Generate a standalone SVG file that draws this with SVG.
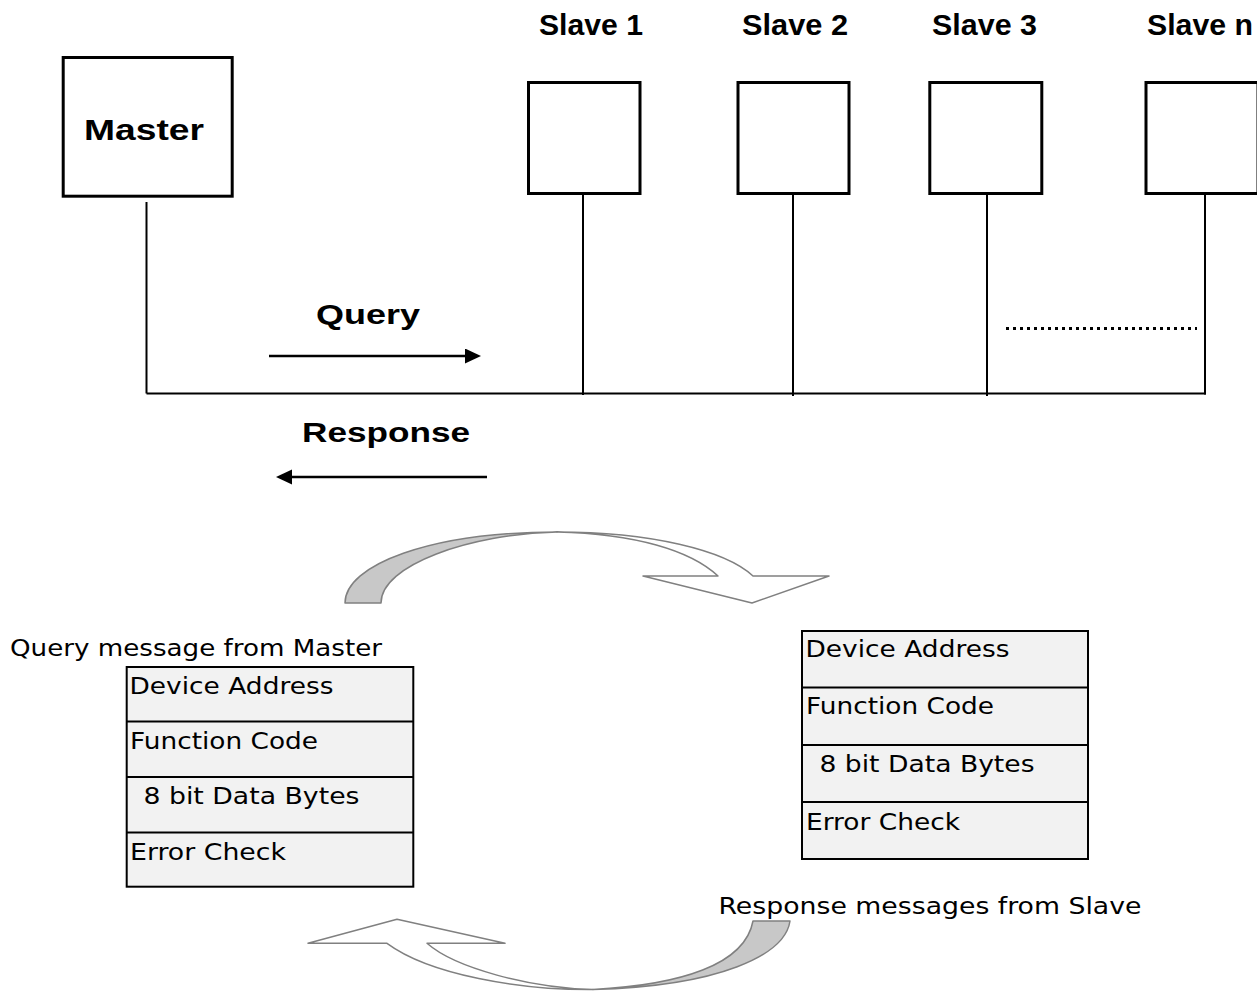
<svg xmlns="http://www.w3.org/2000/svg" width="1257" height="991" viewBox="0 0 1257 991">
<defs>
<style>
.box{fill:#fff;stroke:#000;stroke-width:3}
.wire{stroke:#000;stroke-width:2;fill:none}
.arr{stroke:#000;stroke-width:2.5;fill:none}
.bold{font-family:"Liberation Sans",Arial,sans-serif;font-weight:bold;fill:#000}
.txt{font-family:"DejaVu Sans",Verdana,sans-serif;font-size:22.5px;fill:#000}
.tbl{fill:#f2f2f2;stroke:#000;stroke-width:2}
.div{stroke:#000;stroke-width:2}
.grey{fill:#c8c8c8;stroke:#808080;stroke-width:1.5;stroke-linejoin:round}
.white{fill:#fff;stroke:#808080;stroke-width:1.5;stroke-linejoin:round}
</style>
<marker id="head" markerUnits="userSpaceOnUse" markerWidth="17" markerHeight="16" refX="0" refY="7.5" orient="auto">
<path d="M0,0 L16,7.5 L0,15 Z" fill="#000"/>
</marker>
</defs>
<rect width="1257" height="991" fill="#fff"/>

<g id="master">
<rect class="box" x="63.2" y="57.5" width="169" height="138.7"/>
<text class="bold" x="84" y="140" font-size="29" textLength="120" lengthAdjust="spacingAndGlyphs">Master</text>
</g>

<g id="slave1">
<rect class="box" x="528.5" y="82.5" width="111.5" height="111"/>
<text class="bold" x="539" y="34.5" font-size="29" textLength="104" lengthAdjust="spacingAndGlyphs">Slave 1</text>
</g>
<g id="slave2">
<rect class="box" x="738" y="82.5" width="111" height="111"/>
<text class="bold" x="742" y="34.5" font-size="29" textLength="106" lengthAdjust="spacingAndGlyphs">Slave 2</text>
</g>
<g id="slave3">
<rect class="box" x="929.8" y="82.5" width="112" height="111"/>
<text class="bold" x="932" y="34.5" font-size="29" textLength="105" lengthAdjust="spacingAndGlyphs">Slave 3</text>
</g>
<g id="slaven">
<rect class="box" x="1146" y="82.5" width="112" height="111"/>
<text class="bold" x="1147" y="34.5" font-size="29" textLength="106" lengthAdjust="spacingAndGlyphs">Slave n</text>
</g>

<g id="connectors">
<line class="wire" x1="146.5" y1="202" x2="146.5" y2="393.5"/>
<line class="wire" x1="146.5" y1="393.5" x2="1206" y2="393.5"/>
<line class="wire" x1="583" y1="195" x2="583" y2="395"/>
<line class="wire" x1="793" y1="195" x2="793" y2="396"/>
<line class="wire" x1="987" y1="195" x2="987" y2="396"/>
<line class="wire" x1="1205" y1="195" x2="1205" y2="394.5"/>
<line x1="1006" y1="328.5" x2="1197" y2="328.5" stroke="#000" stroke-width="3" stroke-dasharray="3 4"/>
<line class="arr" x1="269" y1="356" x2="465" y2="356" marker-end="url(#head)"/>
<line class="arr" x1="487" y1="477" x2="292" y2="477" marker-end="url(#head)"/>
</g>

<g id="labels">
<text class="bold" x="316" y="323.5" font-size="28" textLength="104" lengthAdjust="spacingAndGlyphs">Query</text>
<text class="bold" x="302" y="442" font-size="28" textLength="168" lengthAdjust="spacingAndGlyphs">Response</text>
</g>

<g id="cycle-top">
<path class="grey" d="M345,603 C345,565 430,532 557,532 C470,534 381,565 381,603 Z"/>
<path class="white" d="M557,532 C650,532 725,550 753,576 L829,576 L752,603 L643,576 L718,576 C690,550 635,534 557,532 Z"/>
</g>

<g id="cycle-bottom">
<path class="white" d="M593,989.5 C520,990 430,975 387,943.3 L308,943.3 L397,919.3 L505,943.3 L427,943.3 C455,968 530,988 593,989.5 Z"/>
<path class="grey" d="M593,989.5 C720,986 785,955 790,921 L753,921 C745,965 680,985 593,989.5 Z"/>
</g>

<g id="query-message">
<text class="txt" x="10" y="656" textLength="372" lengthAdjust="spacingAndGlyphs">Query message from Master</text>
<rect class="tbl" x="126.7" y="667" width="286.6" height="219.7"/>
<line class="div" x1="126.7" y1="721.5" x2="413.3" y2="721.5"/>
<line class="div" x1="126.7" y1="777" x2="413.3" y2="777"/>
<line class="div" x1="126.7" y1="832.5" x2="413.3" y2="832.5"/>
<text class="txt" x="129.5" y="694" textLength="204" lengthAdjust="spacingAndGlyphs">Device Address</text>
<text class="txt" x="130" y="749" textLength="188" lengthAdjust="spacingAndGlyphs">Function Code</text>
<text class="txt" x="143.5" y="804" textLength="216" lengthAdjust="spacingAndGlyphs">8 bit Data Bytes</text>
<text class="txt" x="130" y="860" textLength="156" lengthAdjust="spacingAndGlyphs">Error Check</text>
</g>

<g id="response-message">
<rect class="tbl" x="802" y="631" width="286" height="228"/>
<line class="div" x1="802" y1="687.5" x2="1088" y2="687.5"/>
<line class="div" x1="802" y1="745" x2="1088" y2="745"/>
<line class="div" x1="802" y1="802" x2="1088" y2="802"/>
<text class="txt" x="805.5" y="657" textLength="204" lengthAdjust="spacingAndGlyphs">Device Address</text>
<text class="txt" x="806" y="714" textLength="188" lengthAdjust="spacingAndGlyphs">Function Code</text>
<text class="txt" x="819.5" y="771.5" textLength="215" lengthAdjust="spacingAndGlyphs">8 bit Data Bytes</text>
<text class="txt" x="806" y="830" textLength="154" lengthAdjust="spacingAndGlyphs">Error Check</text>
<text class="txt" x="718.5" y="914" font-size="24" textLength="423" lengthAdjust="spacingAndGlyphs">Response messages from Slave</text>
</g>
</svg>
